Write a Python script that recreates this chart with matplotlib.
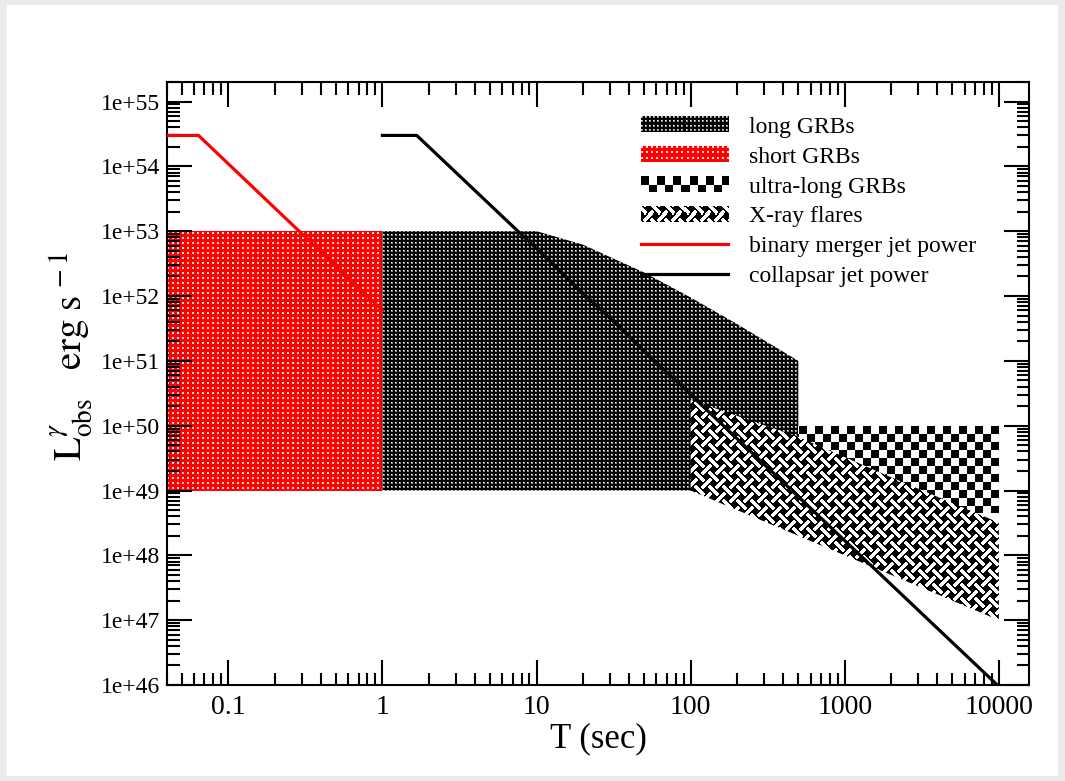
import matplotlib
matplotlib.use("Agg")
import matplotlib.pyplot as plt
import numpy as np
from matplotlib.patches import Patch, Rectangle
from matplotlib.lines import Line2D
from matplotlib.legend_handler import HandlerBase
from matplotlib.image import BboxImage
from matplotlib.transforms import Bbox, TransformedBbox
from matplotlib.ticker import LogLocator, FixedLocator, FuncFormatter, NullFormatter

plt.rcParams["font.family"] = "serif"
plt.rcParams["font.serif"] = ["Liberation Serif", "DejaVu Serif"]
plt.rcParams["mathtext.fontset"] = "stix"

# luminosity regions, T in sec, L in erg/s
short_T = [0.04, 1.0, 1.0, 0.04]
short_L = [1e49, 1e49, 1e53, 1e53]

long_T = [1, 10, 20, 50, 100, 200, 500, 500, 1]
long_L = [1e53, 1e53, 6.2e52, 2.3e52, 9.5e51, 3.7e51, 1e51, 1e49, 1e49]

ultra_T = [500, 1e4, 1e4, 500]
ultra_L = [4.5e48, 4.5e48, 1e50, 1e50]

xray_T = [100, 500, 2000, 1e4, 1e4, 1000, 100]
xray_L = [2.5e50, 6.7e49, 1.6e49, 3.2e48, 1e47, 1e48, 1e49]

# jet power curves
merger_T = [0.04, 0.064, 1.0]
merger_L = [3e54, 3e54, 6e51]
collapsar_T = [1.0, 1.67, 1e4]
collapsar_L = [3e54, 3e54, 9.5e45]

x_ticks = [0.1, 1, 10, 100, 1000, 10000]
y_ticks = [10.0 ** k for k in range(46, 56)]

labels = ["long GRBs", "short GRBs", "ultra-long GRBs", "X-ray flares",
          "binary merger jet power", "collapsar jet power"]


def texture(kind, h, w):
    """pixel pattern fills, rows from the top"""
    i, j = np.mgrid[0:h, 0:w]
    img = np.zeros((h, w, 3))
    if kind == "long":
        img[(i % 4 < 2) & (j % 4 < 2)] = 0.55
        img[(i % 4 == 0) & (j % 4 == 0)] = 1.0
    elif kind == "short":
        img[:] = (1.0, 0.0, 0.0)
        img[(i % 5 < 2) & (j % 5 < 2)] = (1.0, 0.85, 0.85)
    elif kind == "ultra":
        img[:] = 1.0
        img[(i // 8 + j // 8) % 2 == 0] = 0.0
    elif kind == "xray":
        S, wd = 14, 5
        u, v = i + j, i - j
        l1 = (v % S) < wd
        l2 = (u % S) < wd
        near1 = ((v + 2) % S) < wd + 4
        near2 = ((u + 2) % S) < wd + 4
        over1 = (((u + S // 2) // S + (v + S // 2) // S) % 2) == 0
        white = (l1 & ~(near2 & ~over1)) | (l2 & ~(near1 & over1))
        img[white] = 1.0
    return img


class TextureHandler(HandlerBase):
    def __init__(self, kind):
        super().__init__()
        self.kind = kind

    def create_artists(self, legend, orig_handle, xdescent, ydescent,
                       width, height, fontsize, trans):
        box = TransformedBbox(Bbox.from_bounds(-xdescent, -ydescent, width, height), trans)
        dpi = legend.figure.dpi
        img = BboxImage(box, interpolation="nearest")
        img.set_data(texture(self.kind, max(int(round(height * dpi / 72)), 1),
                             max(int(round(width * dpi / 72)), 1)))
        return [img]


fig = plt.figure(figsize=(10.65, 7.81), dpi=100, facecolor="#ebebeb")
# white slide area inside the grey border
fig.patches.append(Rectangle((7 / 1065, 5 / 781), 1051 / 1065, 771 / 781,
                             transform=fig.transFigure, facecolor="white",
                             edgecolor="none", zorder=-1))
ax = fig.add_axes([167 / 1065, 1 - 685 / 781, 862 / 1065, 603 / 781])
ax.set_xscale("log")
ax.set_yscale("log")
ax.set_xlim(0.04, 1.57e4)
ax.set_ylim(1e46, 2e55)
ax.set_autoscale_on(False)


def textured_fill(T, L, kind, z):
    poly = ax.fill(T, L, facecolor="none", edgecolor="none", zorder=z)[0]
    H, W = int(round(ax.bbox.height)), int(round(ax.bbox.width))
    im = ax.imshow(texture(kind, H, W), extent=(0, 1, 0, 1), transform=ax.transAxes,
                   interpolation="nearest", aspect="auto", zorder=z)
    im.set_clip_path(poly)


textured_fill(short_T, short_L, "short", 1)
textured_fill(long_T, long_L, "long", 1.1)
textured_fill(ultra_T, ultra_L, "ultra", 1.2)
textured_fill(xray_T, xray_L, "xray", 1.3)

ax.plot(merger_T, merger_L, color="red", lw=2.3, zorder=3)
ax.plot(collapsar_T, collapsar_L, color="black", lw=2.3, zorder=3)

# axes styling
ax.xaxis.set_major_locator(FixedLocator(x_ticks))
ax.xaxis.set_minor_locator(LogLocator(base=10, subs=np.arange(2, 10), numticks=20))
ax.yaxis.set_major_locator(FixedLocator(y_ticks))
ax.yaxis.set_minor_locator(LogLocator(base=10, subs=np.arange(2, 10), numticks=20))
ax.xaxis.set_major_formatter(FuncFormatter(lambda v, _: f"{v:g}"))
ax.yaxis.set_major_formatter(FuncFormatter(lambda v, _: f"1e+{int(round(np.log10(v)))}"))
ax.xaxis.set_minor_formatter(NullFormatter())
ax.yaxis.set_minor_formatter(NullFormatter())
ax.tick_params(which="both", direction="in", top=True, right=True, width=1.5)
ax.tick_params(which="major", length=18)
ax.tick_params(which="minor", length=9)
ax.tick_params(axis="x", labelsize=20, pad=7)
ax.tick_params(axis="y", labelsize=17, pad=5)
for s in ax.spines.values():
    s.set_linewidth(1.5)

ax.set_xlabel("T (sec)", fontsize=25, labelpad=2)
ax.set_ylabel(r"$\mathrm{L}^{\gamma}_{\mathrm{obs}}\quad\mathrm{erg\ s}^{\,-1}$", fontsize=28)
ax.yaxis.set_label_coords(-0.083, 0.545)

proxies = [Patch(), Patch(), Patch(), Patch()]
handles = proxies + [Line2D([], [], color="red", lw=2.3),
                     Line2D([], [], color="black", lw=2.3)]
hmap = {p: TextureHandler(k) for p, k in zip(proxies, ["long", "short", "ultra", "xray"])}
ax.legend(handles, labels, handler_map=hmap, loc="upper left",
          bbox_to_anchor=(0.55, 0.942), frameon=False, fontsize=17,
          handlelength=3.7, handleheight=0.63, handletextpad=0.85,
          labelspacing=0.37, borderpad=0, borderaxespad=0)

fig.savefig("out.png", dpi=100, facecolor=fig.get_facecolor())
